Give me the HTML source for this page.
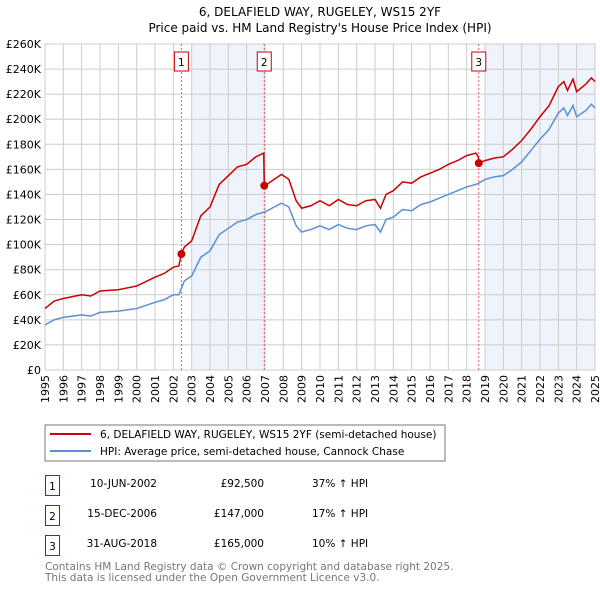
<!DOCTYPE html>
<html><head><meta charset="utf-8"><style>
body{margin:0;background:#fff;font-family:"DejaVu Sans","Liberation Sans",sans-serif;}
svg text{font-family:"DejaVu Sans","Liberation Sans",sans-serif;}
</style></head><body>
<svg id="chart" width="600" height="590" viewBox="0 0 600 590">
<text x="320" y="16" text-anchor="middle" font-size="12">6, DELAFIELD WAY, RUGELEY, WS15 2YF</text>
<text x="320" y="32" text-anchor="middle" font-size="12">Price paid vs. HM Land Registry's House Price Index (HPI)</text>
<g id="plot"></g>
<rect x="45" y="425" width="400" height="36" fill="#fff" stroke="#777"/>
<line x1="50" y1="434" x2="91" y2="434" stroke="#cc0000" stroke-width="2"/>
<text x="100" y="438" font-size="10.5">6, DELAFIELD WAY, RUGELEY, WS15 2YF (semi-detached house)</text>
<line x1="50" y1="451" x2="91" y2="451" stroke="#5b8fd4" stroke-width="2"/>
<text x="100" y="455" font-size="10.5">HPI: Average price, semi-detached house, Cannock Chase</text>
<g font-size="10.5">
<rect x="45.5" y="475.5" width="14" height="20" fill="none" stroke="#cc0000"/><text x="52.5" y="490" text-anchor="middle">1</text>
<text x="157" y="487" text-anchor="end">10-JUN-2002</text>
<text x="264" y="487" text-anchor="end">£92,500</text>
<text x="312" y="487">37% ↑ HPI</text>
<rect x="45.5" y="505.5" width="14" height="20" fill="none" stroke="#cc0000"/><text x="52.5" y="520" text-anchor="middle">2</text>
<text x="157" y="517" text-anchor="end">15-DEC-2006</text>
<text x="264" y="517" text-anchor="end">£147,000</text>
<text x="312" y="517">17% ↑ HPI</text>
<rect x="45.5" y="535.5" width="14" height="20" fill="none" stroke="#cc0000"/><text x="52.5" y="550" text-anchor="middle">3</text>
<text x="157" y="547" text-anchor="end">31-AUG-2018</text>
<text x="264" y="547" text-anchor="end">£165,000</text>
<text x="312" y="547">10% ↑ HPI</text>
</g>
<text x="45" y="570" font-size="10.5" fill="#777">Contains HM Land Registry data © Crown copyright and database right 2025.</text>
<text x="45" y="581" font-size="10.5" fill="#777">This data is licensed under the Open Government Licence v3.0.</text>
</svg>
<script>
const hpiYears=[1995,1995.5,1996,1997,1997.5,1998,1999,2000,2001,2001.5,2002,2002.3,2002.6,2003,2003.5,2004,2004.5,2005,2005.5,2006,2006.5,2006.96,2007,2007.5,2007.9,2008.3,2008.7,2009,2009.5,2010,2010.5,2011,2011.5,2012,2012.5,2013,2013.3,2013.6,2014,2014.5,2015,2015.5,2016,2016.5,2017,2017.5,2018,2018.5,2018.66,2019,2019.5,2020,2020.5,2021,2021.5,2022,2022.5,2023,2023.3,2023.5,2023.8,2024,2024.5,2024.8,2025];
const hpiValues=[36,40,42,44,43,46,47,49,54,56,60,60,71,75,90,95,108,113,118,120,124,126,126,130,133,130,115,110,112,115,112,116,113,112,115,116,110,120,122,128,127,132,134,137,140,143,146,148,149,152,154,155,160,166,175,184,192,205,209,203,211,202,207,212,209];
const priceYears=[1995,1995.5,1996,1997,1997.5,1998,1999,2000,2001,2001.5,2002,2002.3,2002.44,2002.6,2003,2003.5,2004,2004.5,2005,2005.5,2006,2006.5,2006.93,2006.96,2007,2007.5,2007.9,2008.3,2008.7,2009,2009.5,2010,2010.5,2011,2011.5,2012,2012.5,2013,2013.3,2013.6,2014,2014.5,2015,2015.5,2016,2016.5,2017,2017.5,2018,2018.5,2018.64,2018.66,2019,2019.5,2020,2020.5,2021,2021.5,2022,2022.5,2023,2023.3,2023.5,2023.8,2024,2024.5,2024.8,2025];
const priceValues=[49,55,57,60,59,63,64,67,74,77,82,83,92.5,98,103,123,130,148,155,162,164,170,173,147,147,152,156,152,135,129,131,135,131,136,132,131,135,136,129,140,143,150,149,154,157,160,164,167,171,173,170,165,167,169,170,176,183,192,202,211,226,230,223,232,222,228,233,230];
const saleYears=[2002.44,2006.96,2018.66];
const salePrices=[92.5,147,165];
const saleLabels=["1","2","3"];
const yTicks=[0,20,40,60,80,100,120,140,160,180,200,220,240,260];
const xTicks=[1995,1996,1997,1998,1999,2000,2001,2002,2003,2004,2005,2006,2007,2008,2009,2010,2011,2012,2013,2014,2015,2016,2017,2018,2019,2020,2021,2022,2023,2024,2025];
const shadeRanges=[[2003,2007],[2019,2025]];

const X0=45,X1=595,Y0=370,Y1=44;
const xs=y=>X0+(y-1995)/30*(X1-X0);
const ys=v=>Y0-v/260*(Y0-Y1);
const NS="http://www.w3.org/2000/svg";
const g=document.getElementById('plot');
function mk(t,a){const e=document.createElementNS(NS,t);for(const k in a)e.setAttribute(k,a[k]);g.appendChild(e);return e;}
shadeRanges.forEach(r=>{const e=mk('rect',{x:xs(r[0]),y:Y1,width:xs(r[1])-xs(r[0]),height:Y0-Y1,fill:'#eef3fc'});

});
yTicks.forEach(v=>{const l=mk('line',{x1:X0,x2:X1,y1:ys(v),y2:ys(v),stroke:'#ccc'});


const t=mk('text',{x:X0-4,y:ys(v)+4,'text-anchor':'end','font-size':'11'});t.textContent=v===0?'£0':'£'+v+'K';

});
xTicks.forEach(y=>{const l=mk('line',{x1:xs(y),x2:xs(y),y1:Y1,y2:Y0,stroke:'#ccc'});


const t=mk('text',{x:0,y:0,'text-anchor':'end','font-size':'11',transform:`translate(${xs(y)+4},${Y0+5}) rotate(-90)`});t.textContent=y;

});
const ax=mk('rect',{x:X0,y:Y1,width:X1-X0,height:Y0-Y1,fill:'none',stroke:'#ccc'});


saleYears.forEach((s,i)=>{const l=mk('line',{x1:xs(s),x2:xs(s),y1:Y1,y2:Y0,stroke:'#e06060','stroke-dasharray':'2,2'});


const b=mk('rect',{x:xs(s)-7,y:52,width:14,height:19,fill:'#fff',stroke:'#cc0000'});


const t=mk('text',{x:xs(s),y:66,'text-anchor':'middle','font-size':'10.5'});t.textContent=saleLabels[i];

});
const hp=mk('polyline',{points:hpiYears.map((y,i)=>xs(y)+','+ys(hpiValues[i])).join(' '),fill:'none',stroke:'#5b8fd4','stroke-width':1.5});


const pp=mk('polyline',{points:priceYears.map((y,i)=>xs(y)+','+ys(priceValues[i])).join(' '),fill:'none',stroke:'#cc0000','stroke-width':1.5});


saleYears.forEach((s,i)=>{const c=mk('circle',{cx:xs(s),cy:ys(salePrices[i]),r:4,fill:'#cc0000'});

});
</script>
</body></html>
